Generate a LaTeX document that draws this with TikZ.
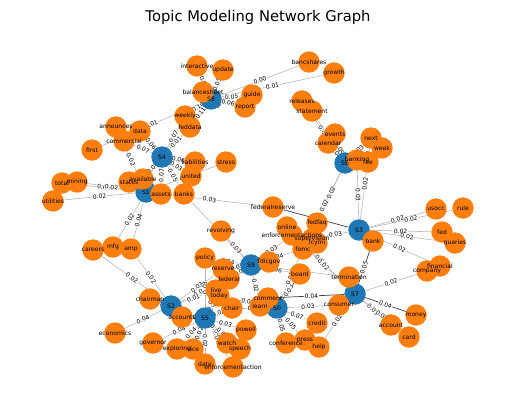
\documentclass[tikz,border=0pt]{standalone}
\usepackage{fontspec}
\setmainfont{DejaVu Sans}
\definecolor{topicblue}{HTML}{1F77B4}
\definecolor{wordorange}{HTML}{FF7F0E}
\pgfdeclarelayer{edges}
\pgfsetlayers{edges,main}
\tikzset{
  topic/.style={circle, fill=topicblue, minimum size=21.4bp, inner sep=0pt},
  word/.style={circle, fill=wordorange, minimum size=21.4bp, inner sep=0pt},
  lbl/.style={inner sep=0pt, font=\fontsize{6.1}{7}\selectfont},
  link/.style={draw=black!28, line width=0.6bp},
  heavy/.style={draw=black!75, line width=0.7bp},
  wt/.style={sloped, midway, fill=white, inner sep=0.5bp, font=\fontsize{6}{7}\selectfont}
}

\begin{document}
\begin{tikzpicture}[x=1bp, y=-1bp]
\useasboundingbox (0,0) rectangle (515,410);
%%%%% START %%%%%

\node[font=\fontsize{14.8}{17}\selectfont] (title) at (258,17) {Topic Modeling Network Graph};

% topics
\node[topic] (s0) at (277,308) {};
\node[topic] (s1) at (146,192) {};
\node[topic] (s2) at (171,306) {};
\node[topic] (s3) at (359,230) {};
\node[topic] (s4) at (162,157) {};
\node[topic] (s5) at (205,318) {};
\node[topic] (s6) at (345,163) {};
\node[topic] (s7) at (355,294) {};
\node[topic] (s8) at (211,99) {};
\node[topic] (s9) at (251,265) {};

% words
\node[word] (interactive) at (197,66) {};
\node[word] (update) at (223,70) {};
\node[word] (balancesheet) at (203,92) {};
\node[word] (guide) at (252,95) {};
\node[word] (report) at (245,107) {};
\node[word] (bancshares) at (309,62) {};
\node[word] (growth) at (334,73) {};
\node[word] (releases) at (302,101) {};
\node[word] (statement) at (312,111) {};
\node[word] (events) at (335,134) {};
\node[word] (calendar) at (328,143) {};
\node[word] (next) at (371,138) {};
\node[word] (week) at (382,148) {};
\node[word] (banking) at (357,160) {};
\node[word] (fee) at (368,162) {};
\node[word] (weekly) at (185,116) {};
\node[word] (feddata) at (190,127) {};
\node[word] (announces) at (116,127) {};
\node[word] (data) at (140,131) {};
\node[word] (commercial) at (124,141) {};
\node[word] (first) at (92,150) {};
\node[word] (liabilities) at (195,162) {};
\node[word] (stress) at (226,162) {};
\node[word] (united) at (191,176) {};
\node[word] (states) at (129,182) {};
\node[word] (available) at (143,179) {};
\node[word] (assets) at (161,194) {};
\node[word] (banks) at (184,194) {};
\node[word] (total) at (62,183) {};
\node[word] (mining) at (77,182) {};
\node[word] (utilities) at (53,201) {};
\node[word] (careers) at (93,250) {};
\node[word] (mfg) at (113,247) {};
\node[word] (amp) at (131,249) {};
\node[word] (revolving) at (221,231) {};
\node[word] (federalreserve) at (273,207) {};
\node[word] (policy) at (205,258) {};
\node[word] (reserve) at (223,269) {};
\node[word] (federal) at (229,279) {};
\node[word] (live) at (216,290) {};
\node[word] (today) at (219,296) {};
\node[word] (chair) at (232,308) {};
\node[word] (fdicgov) at (269,262) {};
\node[word] (learn) at (260,306) {};
\node[word] (comment) at (268,298) {};
\node[word] (board) at (300,274) {};
\node[word] (online) at (287,227) {};
\node[word] (fedfaq) at (317,223) {};
\node[word] (enforcementactions) at (292,235) {};
\node[word] (supervision) at (312,239) {};
\node[word] (fcymi) at (317,243) {};
\node[word] (fomc) at (303,249) {};
\node[word] (chairman) at (150,299) {};
\node[word] (accounts) at (182,317) {};
\node[word] (economics) at (115,333) {};
\node[word] (governor) at (153,343) {};
\node[word] (exploring) at (177,349) {};
\node[word] (vice) at (193,349) {};
\node[word] (date) at (205,364) {};
\node[word] (enforcementaction) at (233,367) {};
\node[word] (watch) at (227,343) {};
\node[word] (speech) at (240,349) {};
\node[word] (powell) at (246,330) {};
\node[word] (conference) at (286,343) {};
\node[word] (press) at (305,340) {};
\node[word] (help) at (319,347) {};
\node[word] (credit) at (317,323) {};
\node[word] (consumer) at (339,305) {};
\node[word] (termination) at (349,277) {};
\node[word] (usocc) at (436,209) {};
\node[word] (rule) at (463,208) {};
\node[word] (fed) at (442,232) {};
\node[word] (quaries) at (455,243) {};
\node[word] (bank) at (373,241) {};
\node[word] (financial) at (440,266) {};
\node[word] (company) at (427,271) {};
\node[word] (money) at (416,315) {};
\node[word] (account) at (391,325) {};
\node[word] (card) at (409,337) {};

% links with weights
\begin{pgfonlayer}{edges}
\draw[link] (s8) -- node[wt]{0.02} (interactive);
\draw[link] (s8) -- node[wt]{0.05} (update);
\draw[link] (s8) -- node[wt]{0.08} (balancesheet);
\draw[link] (s8) -- node[wt]{0.05} (guide);
\draw[heavy] (s8) -- node[wt]{0.06} (report);
\draw[link] (s8) -- node[wt]{0.00} (bancshares);
\draw[link] (s8) -- node[wt]{0.01} (growth);
\draw[link] (s8) -- node[wt]{0.10} (weekly);
\draw[link] (s8) -- node[wt]{0.11} (feddata);
\draw[link] (s8) -- node[wt]{0.01} (first);

\draw[link] (s4) -- node[wt]{0.07} (commercial);
\draw[link] (s4) -- node[wt]{0.06} (data);
\draw[link] (s4) -- node[wt]{0.07} (weekly);
\draw[link] (s4) -- node[wt]{0.01} (feddata);
\draw[link] (s4) -- node[wt]{0.06} (liabilities);
\draw[link] (s4) -- node[wt]{0.03} (united);
\draw[link] (s4) -- node[wt]{0.05} (banks);
\draw[link] (s4) -- node[wt]{0.07} (assets);
\draw[link] (s4) -- node[wt]{0.08} (available);

\draw[link] (s1) -- node[wt]{0.02} (announces);
\draw[link] (s1) -- node[wt]{0.02} (total);
\draw[link] (s1) -- node[wt]{0.02} (mining);
\draw[link] (s1) -- node[wt]{0.02} (utilities);
\draw[link] (s1) -- node[wt]{0.02} (mfg);
\draw[link] (s1) -- node[wt]{0.04} (amp);
\draw[link] (s1) -- node[wt]{0.03} (federalreserve);
\draw[link] (s1) -- node[wt]{0.05} (states);
\draw[link] (s1) -- node[wt]{0.04} (available);
\draw[link] (s1) -- node[wt]{0.06} (assets);
\draw[link] (s1) -- node[wt]{0.02} (stress);

\draw[link] (s6) -- node[wt]{0.02} (releases);
\draw[link] (s6) -- node[wt]{0.03} (statement);
\draw[link] (s6) -- node[wt]{0.05} (events);
\draw[link] (s6) -- node[wt]{0.04} (calendar);
\draw[link] (s6) -- node[wt]{0.03} (next);
\draw[link] (s6) -- node[wt]{0.02} (week);
\draw[link] (s6) -- node[wt]{0.09} (banking);
\draw[link] (s6) -- node[wt]{0.04} (fee);
\draw[link] (s6) -- node[wt]{0.02} (fedfaq);
\draw[link] (s6) -- node[wt]{0.02} (fomc);

\draw[heavy] (s3) -- node[wt]{0.08} (federalreserve);
\draw[link] (s3) -- node[wt]{0.03} (banking);
\draw[link] (s3) -- node[wt]{0.02} (next);
\draw[link] (s3) -- node[wt]{0.02} (usocc);
\draw[link] (s3) -- node[wt]{0.02} (rule);
\draw[link] (s3) -- node[wt]{0.02} (fed);
\draw[link] (s3) -- node[wt]{0.02} (quaries);
\draw[link] (s3) -- node[wt]{0.02} (financial);
\draw[heavy] (s3) -- node[wt]{0.06} (bank);
\draw[link] (s3) -- node[wt]{0.03} (supervision);

\draw[link] (s9) -- node[wt]{0.03} (revolving);
\draw[link] (s9) -- node[wt]{0.02} (banks);
\draw[link] (s9) -- node[wt]{0.04} (policy);
\draw[link] (s9) -- node[wt]{0.05} (reserve);
\draw[link] (s9) -- node[wt]{0.04} (federal);
\draw[link] (s9) -- node[wt]{0.03} (live);
\draw[link] (s9) -- node[wt]{0.07} (fdicgov);
\draw[link] (s9) -- node[wt]{0.06} (board);
\draw[link] (s9) -- node[wt]{0.02} (termination);
\draw[link] (s9) -- node[wt]{0.02} (learn);
\draw[link] (s9) -- node[wt]{0.04} (fomc);
\draw[link] (s9) -- node[wt]{0.03} (enforcementactions);

\draw[heavy] (s0) -- node[wt]{0.05} (comment);
\draw[link] (s0) -- node[wt]{0.04} (learn);
\draw[heavy] (s0) -- node[wt]{0.03} (board);
\draw[link] (s0) -- node[wt]{0.02} (fomc);
\draw[link] (s0) -- node[wt]{0.03} (consumer);
\draw[link] (s0) -- node[wt]{0.07} (credit);
\draw[link] (s0) -- node[wt]{0.05} (press);
\draw[link] (s0) -- node[wt]{0.05} (conference);
\draw[link] (s0) -- node[wt]{0.04} (today);
\draw[link] (s0) -- node[wt]{0.03} (chair);

\draw[link] (s7) -- node[wt]{0.06} (termination);
\draw[link] (s7) -- node[wt]{0.05} (consumer);
\draw[heavy] (s7) -- node[wt]{0.04} (comment);
\draw[heavy] (s7) -- node[wt]{0.05} (bank);
\draw[link] (s7) -- node[wt]{0.02} (company);
\draw[heavy] (s7) -- node[wt]{0.04} (money);
\draw[link] (s7) -- node[wt]{0.01} (account);
\draw[link] (s7) -- node[wt]{0.03} (card);
\draw[link] (s7) -- node[wt]{0.02} (help);
\draw[link] (s7) -- node[wt]{0.04} (online);
\draw[link] (s7) -- node[wt]{0.02} (enforcementactions);

\draw[link] (s2) -- node[wt]{0.06} (chairman);
\draw[link] (s2) -- node[wt]{0.05} (accounts);
\draw[link] (s2) -- node[wt]{0.02} (careers);
\draw[link] (s2) -- node[wt]{0.02} (amp);
\draw[link] (s2) -- node[wt]{0.04} (economics);
\draw[link] (s2) -- node[wt]{0.03} (reserve);
\draw[link] (s2) -- node[wt]{0.07} (federal);
\draw[link] (s2) -- node[wt]{0.01} (live);

\draw[link] (s5) -- node[wt]{0.04} (accounts);
\draw[link] (s5) -- node[wt]{0.02} (chair);
\draw[link] (s5) -- node[wt]{0.05} (today);
\draw[link] (s5) -- node[wt]{0.06} (live);
\draw[link] (s5) -- node[wt]{0.03} (policy);
\draw[link] (s5) -- node[wt]{0.04} (governor);
\draw[link] (s5) -- node[wt]{0.04} (exploring);
\draw[link] (s5) -- node[wt]{0.02} (vice);
\draw[link] (s5) -- node[wt]{0.02} (date);
\draw[link] (s5) -- node[wt]{0.03} (enforcementaction);
\draw[link] (s5) -- node[wt]{0.06} (watch);
\draw[link] (s5) -- node[wt]{0.03} (speech);
\draw[link] (s5) -- node[wt]{0.03} (powell);
\end{pgfonlayer}

% names on top
\node[lbl] (s0-t) at (s0) {S0};
\node[lbl] (s1-t) at (s1) {S1};
\node[lbl] (s2-t) at (s2) {S2};
\node[lbl] (s3-t) at (s3) {S3};
\node[lbl] (s4-t) at (s4) {S4};
\node[lbl] (s5-t) at (s5) {S5};
\node[lbl] (s6-t) at (s6) {S6};
\node[lbl] (s7-t) at (s7) {S7};
\node[lbl] (s8-t) at (s8) {S8};
\node[lbl] (s9-t) at (s9) {S9};
\node[lbl] (interactive-t) at (interactive) {interactive};
\node[lbl] (update-t) at (update) {update};
\node[lbl] (balancesheet-t) at (balancesheet) {balancesheet};
\node[lbl] (guide-t) at (guide) {guide};
\node[lbl] (report-t) at (report) {report};
\node[lbl] (bancshares-t) at (bancshares) {bancshares};
\node[lbl] (growth-t) at (growth) {growth};
\node[lbl] (releases-t) at (releases) {releases};
\node[lbl] (statement-t) at (statement) {statement};
\node[lbl] (events-t) at (events) {events};
\node[lbl] (calendar-t) at (calendar) {calendar};
\node[lbl] (next-t) at (next) {next};
\node[lbl] (week-t) at (week) {week};
\node[lbl] (banking-t) at (banking) {banking};
\node[lbl] (fee-t) at (fee) {fee};
\node[lbl] (weekly-t) at (weekly) {weekly};
\node[lbl] (feddata-t) at (feddata) {feddata};
\node[lbl] (announces-t) at (announces) {announces};
\node[lbl] (data-t) at (data) {data};
\node[lbl] (commercial-t) at (commercial) {commercial};
\node[lbl] (first-t) at (first) {first};
\node[lbl] (liabilities-t) at (liabilities) {liabilities};
\node[lbl] (stress-t) at (stress) {stress};
\node[lbl] (united-t) at (united) {united};
\node[lbl] (states-t) at (states) {states};
\node[lbl] (available-t) at (available) {available};
\node[lbl] (assets-t) at (assets) {assets};
\node[lbl] (banks-t) at (banks) {banks};
\node[lbl] (total-t) at (total) {total};
\node[lbl] (mining-t) at (mining) {mining};
\node[lbl] (utilities-t) at (utilities) {utilities};
\node[lbl] (careers-t) at (careers) {careers};
\node[lbl] (mfg-t) at (mfg) {mfg};
\node[lbl] (amp-t) at (amp) {amp};
\node[lbl] (revolving-t) at (revolving) {revolving};
\node[lbl] (federalreserve-t) at (federalreserve) {federalreserve};
\node[lbl] (policy-t) at (policy) {policy};
\node[lbl] (reserve-t) at (reserve) {reserve};
\node[lbl] (federal-t) at (federal) {federal};
\node[lbl] (live-t) at (live) {live};
\node[lbl] (today-t) at (today) {today};
\node[lbl] (chair-t) at (chair) {chair};
\node[lbl] (fdicgov-t) at (fdicgov) {fdicgov};
\node[lbl] (learn-t) at (learn) {learn};
\node[lbl] (comment-t) at (comment) {comment};
\node[lbl] (board-t) at (board) {board};
\node[lbl] (online-t) at (online) {online};
\node[lbl] (fedfaq-t) at (fedfaq) {fedfaq};
\node[lbl] (enforcementactions-t) at (enforcementactions) {enforcementactions};
\node[lbl] (supervision-t) at (supervision) {supervision};
\node[lbl] (fcymi-t) at (fcymi) {fcymi};
\node[lbl] (fomc-t) at (fomc) {fomc};
\node[lbl] (chairman-t) at (chairman) {chairman};
\node[lbl] (accounts-t) at (accounts) {accounts};
\node[lbl] (economics-t) at (economics) {economics};
\node[lbl] (governor-t) at (governor) {governor};
\node[lbl] (exploring-t) at (exploring) {exploring};
\node[lbl] (vice-t) at (vice) {vice};
\node[lbl] (date-t) at (date) {date};
\node[lbl] (enforcementaction-t) at (enforcementaction) {enforcementaction};
\node[lbl] (watch-t) at (watch) {watch};
\node[lbl] (speech-t) at (speech) {speech};
\node[lbl] (powell-t) at (powell) {powell};
\node[lbl] (conference-t) at (conference) {conference};
\node[lbl] (press-t) at (press) {press};
\node[lbl] (help-t) at (help) {help};
\node[lbl] (credit-t) at (credit) {credit};
\node[lbl] (consumer-t) at (consumer) {consumer};
\node[lbl] (termination-t) at (termination) {termination};
\node[lbl] (usocc-t) at (usocc) {usocc};
\node[lbl] (rule-t) at (rule) {rule};
\node[lbl] (fed-t) at (fed) {fed};
\node[lbl] (quaries-t) at (quaries) {quaries};
\node[lbl] (bank-t) at (bank) {bank};
\node[lbl] (financial-t) at (financial) {financial};
\node[lbl] (company-t) at (company) {company};
\node[lbl] (money-t) at (money) {money};
\node[lbl] (account-t) at (account) {account};
\node[lbl] (card-t) at (card) {card};

%%%%% END %%%%%
\end{tikzpicture}
\end{document}
